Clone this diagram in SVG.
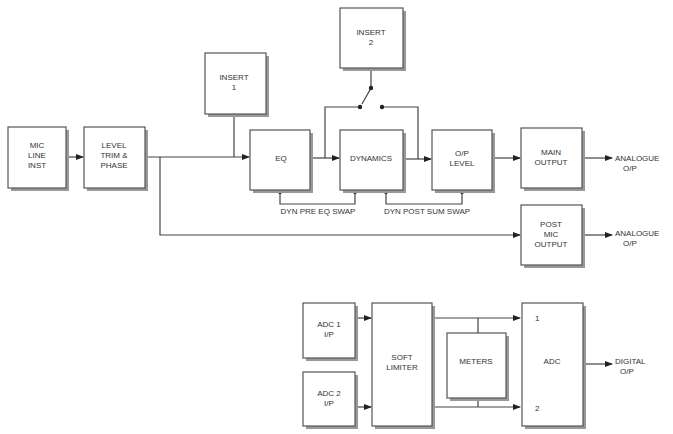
<svg xmlns="http://www.w3.org/2000/svg" width="673" height="434" viewBox="0 0 673 434">
<style>
.b{fill:#fff;stroke:#555;stroke-width:1.2}
.s{fill:#999}
.t{font-family:"Liberation Sans",Arial,sans-serif;font-size:8px;fill:#333;text-anchor:middle}
.l{font-family:"Liberation Sans",Arial,sans-serif;font-size:8px;fill:#333}
.c{fill:none;stroke:#444;stroke-width:1.2}
</style>
<defs>
<marker id="a" markerWidth="8" markerHeight="6" refX="7" refY="3" orient="auto" markerUnits="userSpaceOnUse"><path d="M0,0L8,3L0,6z" fill="#222"/></marker>
</defs>
<rect width="673" height="434" fill="#fff"/>
<g id="connectors" class="c">
<path d="M66,157H83" marker-end="url(#a)"/>
<path d="M145,157H249" marker-end="url(#a)"/>
<path d="M234,114V157"/>
<path d="M160,157V235H520" marker-end="url(#a)"/>
<path d="M310,158H339" marker-end="url(#a)"/>
<path d="M325,158V107H360"/>
<path d="M371,68V88L362,104"/>
<path d="M382,107H418V159"/>
<path d="M403,159H431" marker-end="url(#a)"/>
<path d="M492,158H520" marker-end="url(#a)"/>
<path d="M582,158H612" marker-end="url(#a)"/>
<path d="M582,235H612" marker-end="url(#a)"/>
<path d="M280,192V204H355V192"/>
<path d="M386,192V204H462V192"/>
<path d="M355,318H371" marker-end="url(#a)"/>
<path d="M355,407H371" marker-end="url(#a)"/>
<path d="M432,318H520" marker-end="url(#a)"/>
<path d="M432,407H520" marker-end="url(#a)"/>
<path d="M478,318V333M478,398V407"/>
<path d="M583,364H612" marker-end="url(#a)"/>
<g fill="#222" stroke="none">
<circle cx="371" cy="88" r="2.2"/><circle cx="360" cy="107" r="2.2"/><circle cx="382" cy="107" r="2.2"/>
<circle cx="280" cy="192" r="2"/><circle cx="355" cy="192" r="2"/><circle cx="386" cy="192" r="2"/><circle cx="462" cy="192" r="2"/>
</g>
</g>
<g id="mic"><rect class="s" x="11" y="130" width="58" height="61"/><rect class="b" x="8" y="127" width="58" height="61"/><text class="t" x="37" y="148">MIC</text><text class="t" x="37" y="158">LINE</text><text class="t" x="37" y="168">INST</text></g>
<g id="level"><rect class="s" x="87" y="130" width="61" height="61"/><rect class="b" x="84" y="127" width="61" height="61"/><text class="t" x="114" y="148">LEVEL</text><text class="t" x="114" y="158">TRIM &amp;</text><text class="t" x="114" y="168">PHASE</text></g>
<g id="insert1"><rect class="s" x="208" y="56" width="61" height="61"/><rect class="b" x="205" y="53" width="61" height="61"/><text class="t" x="234" y="80">INSERT</text><text class="t" x="234" y="90">1</text></g>
<g id="eq"><rect class="s" x="253" y="133" width="60" height="60"/><rect class="b" x="250" y="130" width="60" height="60"/><text class="t" x="281" y="161">EQ</text></g>
<g id="insert2"><rect class="s" x="343" y="11" width="63" height="60"/><rect class="b" x="340" y="8" width="63" height="60"/><text class="t" x="371" y="35">INSERT</text><text class="t" x="371" y="45">2</text></g>
<g id="dynamics"><rect class="s" x="343" y="133" width="63" height="60"/><rect class="b" x="340" y="130" width="63" height="60"/><text class="t" x="371" y="161">DYNAMICS</text></g>
<g id="oplevel"><rect class="s" x="435" y="133" width="60" height="60"/><rect class="b" x="432" y="130" width="60" height="60"/><text class="t" x="462" y="156">O/P</text><text class="t" x="462" y="166">LEVEL</text></g>
<g id="main"><rect class="s" x="524" y="131" width="61" height="60"/><rect class="b" x="521" y="128" width="61" height="60"/><text class="t" x="551" y="155">MAIN</text><text class="t" x="551" y="165">OUTPUT</text></g>
<g id="postmic"><rect class="s" x="524" y="208" width="61" height="60"/><rect class="b" x="521" y="205" width="61" height="60"/><text class="t" x="551" y="227">POST</text><text class="t" x="551" y="237">MIC</text><text class="t" x="551" y="247">OUTPUT</text></g>
<g id="labels">
<text class="l" x="615" y="161">ANALOGUE</text><text class="l" x="623" y="171">O/P</text>
<text class="l" x="615" y="236">ANALOGUE</text><text class="l" x="623" y="246">O/P</text>
<text class="t" x="318" y="214">DYN PRE EQ SWAP</text>
<text class="t" x="427" y="214">DYN POST SUM SWAP</text>
<text class="l" x="615" y="364">DIGITAL</text><text class="l" x="620" y="374">O/P</text>
</g>
<g id="adc1"><rect class="s" x="306" y="306" width="52" height="55"/><rect class="b" x="303" y="303" width="52" height="55"/><text class="t" x="329" y="327">ADC 1</text><text class="t" x="329" y="337">I/P</text></g>
<g id="adc2"><rect class="s" x="306" y="375" width="52" height="54"/><rect class="b" x="303" y="372" width="52" height="54"/><text class="t" x="329" y="396">ADC 2</text><text class="t" x="329" y="406">I/P</text></g>
<g id="limiter"><rect class="s" x="375" y="306" width="60" height="123"/><rect class="b" x="372" y="303" width="60" height="123"/><text class="t" x="402" y="360">SOFT</text><text class="t" x="402" y="370">LIMITER</text></g>
<g id="meters"><rect class="s" x="450" y="336" width="59" height="65"/><rect class="b" x="447" y="333" width="59" height="65"/><text class="t" x="476" y="364">METERS</text></g>
<g id="adc"><rect class="s" x="525" y="306" width="61" height="123"/><rect class="b" x="522" y="303" width="61" height="123"/><text class="t" x="552" y="364">ADC</text><text class="l" x="535" y="321">1</text><text class="l" x="535" y="411">2</text></g>
</svg>
